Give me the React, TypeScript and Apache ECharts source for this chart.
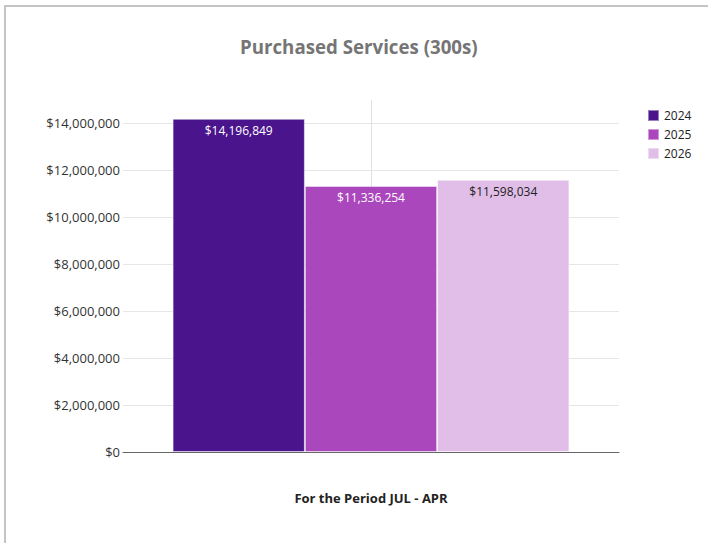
import React, { useEffect, useRef } from "react";
import * as echarts from "echarts";

const categories: string[] = [""];
const seriesNames: string[] = ["2024", "2025", "2026"];
const values2024: number[] = [14196849];
const values2025: number[] = [11336254];
const values2026: number[] = [11598034];
const seriesColors: string[] = ["#4a148c", "#ab47bc", "#e1bee7"];
const labelColors: string[] = ["#ffffff", "#ffffff", "#222222"];
const titleText = "Purchased Services (300s)";
const xAxisTitle = "For the Period JUL - APR";

const fmt = (v: number) => "$" + Math.round(v).toLocaleString("en-US");

export default function App() {
  const ref = useRef<HTMLDivElement>(null);
  useEffect(() => {
    if (!ref.current) return;
    const chart = echarts.init(ref.current, null, { renderer: "svg" });
    const allValues = [values2024, values2025, values2026];
    const font = "'Open Sans', sans-serif";
    chart.setOption({
      animation: false,
      backgroundColor: "transparent",
      textStyle: { fontFamily: font },
      title: {
        text: titleText,
        left: 240,
        top: 37,
        padding: 0,
        textStyle: { fontFamily: font, fontSize: 18.7, fontWeight: "bold", color: "#757575" },
      },
      legend: {
        orient: "vertical",
        left: 642,
        top: 104,
        itemWidth: 11,
        itemHeight: 11,
        itemGap: 6,
        icon: "rect",
        textStyle: { fontFamily: font, fontSize: 12, color: "#222" },
        data: seriesNames,
      },
      grid: { left: 123, right: 89, top: 100, bottom: 91, containLabel: false },
      xAxis: {
        type: "category",
        data: categories,
        name: xAxisTitle,
        nameLocation: "middle",
        nameGap: 39,
        nameTextStyle: { fontFamily: font, fontSize: 13, fontWeight: "bold", color: "#222" },
        axisLine: { show: true, lineStyle: { color: "#666", width: 1 } },
        axisTick: { show: false },
        axisLabel: { show: false },
        splitLine: { show: false },
      },
      yAxis: {
        type: "value",
        min: 0,
        max: 15000000,
        interval: 2000000,
        axisLine: { show: false },
        axisTick: { show: false },
        axisLabel: {
          showMaxLabel: false,
          margin: 3,
          fontFamily: font,
          fontSize: 13,
          color: "#333",
          formatter: (v: number) => fmt(v),
        },
        splitLine: { show: true, showMaxLine: false, lineStyle: { color: "#e6e6e6", width: 1 } },
      },
      series: seriesNames.map((name, i) => ({
        name,
        type: "bar",
        data: allValues[i],
        barGap: "0%",
        barCategoryGap: "20%",
        z: 2,
        itemStyle: {
          color: seriesColors[i],
          borderColor: "rgba(255,255,255,0.45)",
          borderWidth: 1,
        },
        label: {
          show: true,
          position: "insideTop",
          distance: 6,
          fontFamily: font,
          fontSize: 12,
          color: labelColors[i],
          formatter: (p: any) => fmt(p.value),
        },
        ...(i === 1
          ? {
              markLine: {
                silent: true,
                symbol: "none",
                z: 1,
                label: { show: false },
                lineStyle: { color: "#e0e0e0", width: 1, type: "solid" },
                data: [{ xAxis: 0 }],
              },
            }
          : {}),
      })),
    });
    return () => chart.dispose();
  }, []);

  return (
    <div style={{ position: "fixed", left: 0, top: 0, width: 708, height: 543, overflow: "hidden", background: "#fff" }}>
      <div
        style={{
          position: "absolute",
          left: 4,
          top: 5,
          width: 720,
          height: 560,
          border: "2px solid #c4c4c4",
          boxSizing: "border-box",
        }}
      />
      <div ref={ref} style={{ position: "absolute", left: 0, top: 0, width: 708, height: 543 }} />
    </div>
  );
}
